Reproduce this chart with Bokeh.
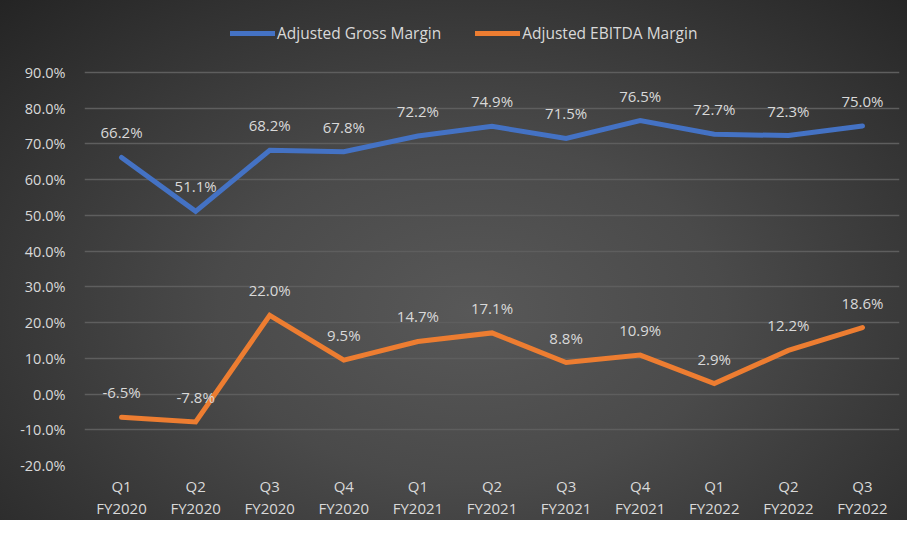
from bokeh.plotting import figure
from bokeh.models import (ColumnDataSource, Legend, LegendItem, FactorRange,
                          Range1d, FixedTicker, PrintfTickFormatter)
from bokeh.embed import file_html
from bokeh.resources import INLINE
from bokeh.core.properties import value

quarters = ["Q1\nFY2020", "Q2\nFY2020", "Q3\nFY2020", "Q4\nFY2020",
            "Q1\nFY2021", "Q2\nFY2021", "Q3\nFY2021", "Q4\nFY2021",
            "Q1\nFY2022", "Q2\nFY2022", "Q3\nFY2022"]
gross_margin = [66.2, 51.1, 68.2, 67.8, 72.2, 74.9, 71.5, 76.5, 72.7, 72.3, 75.0]
ebitda_margin = [-6.5, -7.8, 22.0, 9.5, 14.7, 17.1, 8.8, 10.9, 2.9, 12.2, 18.6]
y_ticks = [-20, -10, 0, 10, 20, 30, 40, 50, 60, 70, 80, 90]

FONT = "Open Sans"
TXT = "#d9d9d9"

src = ColumnDataSource(dict(
    q=quarters,
    g=gross_margin,
    e=ebitda_margin,
    gl=[f"{v:.1f}%" for v in gross_margin],
    el=[f"{v:.1f}%" for v in ebitda_margin],
))

# frame runs from the top of the legend strip; the axis itself ends at 90%
p = figure(width=907, height=520, x_range=FactorRange(*quarters),
           y_range=Range1d(-20, 107.3),
           output_backend="svg", toolbar_location=None,
           min_border_left=84, min_border_right=8,
           min_border_top=10, min_border_bottom=53)
p.styles = {
    "background": "radial-gradient(ellipse at 52% 60%, #585858 0%, #4a4a4a 38%, #242424 100%)",
}
p.background_fill_alpha = 0
p.border_fill_alpha = 0
p.outline_line_color = None

p.xgrid.grid_line_color = None
p.ygrid.grid_line_color = "#5e5e5e"
p.ygrid.grid_line_width = 1.3
p.yaxis.ticker = FixedTicker(ticks=y_ticks)
p.yaxis.formatter = PrintfTickFormatter(format="%.1f%%")

for ax in (p.xaxis[0], p.yaxis[0]):
    ax.axis_line_color = None
    ax.major_tick_line_color = None
    ax.minor_tick_line_color = None
    ax.major_label_text_color = TXT
    ax.major_label_text_font = FONT
p.xaxis.major_label_text_font_size = "15px"
p.yaxis.major_label_text_font_size = "14.5px"
p.yaxis.major_label_standoff = 13
p.xaxis.major_label_standoff = 4
p.xaxis.major_label_text_line_height = 1.12

r1 = p.line("q", "g", source=src, line_width=5, line_color="#4472C4",
            line_cap="round", line_join="miter")
r2 = p.line("q", "e", source=src, line_width=5, line_color="#ED7D31",
            line_cap="round", line_join="miter")

for col, lab in (("g", "gl"), ("e", "el")):
    p.text("q", col, text=lab, source=src, text_align="center",
           text_baseline="middle", y_offset=-25, text_color=TXT,
           text_font=value(FONT), text_font_size="15px")

legend = Legend(items=[LegendItem(label="Adjusted Gross Margin", renderers=[r1]),
                       LegendItem(label="Adjusted EBITDA Margin", renderers=[r2])],
                orientation="horizontal", location=(146, 421),
                glyph_width=45, glyph_height=20, label_standoff=2, spacing=34,
                padding=0, margin=0, border_line_color=None,
                background_fill_alpha=0, label_text_color=TXT,
                label_text_font=FONT, label_text_font_size="15.5px")
p.add_layout(legend)

open("out.html", "w").write(file_html(p, INLINE))
